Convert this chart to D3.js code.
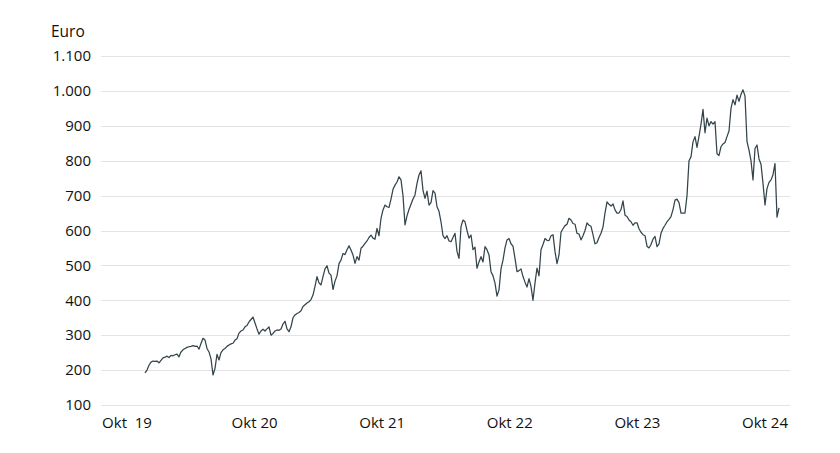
<!DOCTYPE html>
<html>
<head>
<meta charset="utf-8">
<script src="https://cdn.jsdelivr.net/npm/d3@7/dist/d3.min.js"></script>
<style>
  html, body { margin: 0; padding: 0; background: #fff; }
  svg { display: block; }
  text { font-family: "Open Sans", "Noto Sans", sans-serif; fill: #111; }
</style>
</head>
<body>
<svg id="chart" width="840" height="453"></svg>
<script>
// ---- data ----
const xLabels = ["Okt  19", "Okt 20", "Okt 21", "Okt 22", "Okt 23", "Okt 24"];
const yTicks = [100, 200, 300, 400, 500, 600, 700, 800, 900, 1000, 1100];
const yUnit = "Euro";
// price samples, evenly spaced in time from start to end of the series
const prices = [
  192,200,214,223,226,225,226,221,228,235,237,240,236,242,241,244,246,238,252,258,
  262,265,267,268,270,268,269,260,276,291,286,262,252,232,186,205,245,229,250,258,
  262,268,272,275,277,286,290,306,312,315,324,328,338,345,352,335,318,303,312,317,
  312,318,324,300,305,312,315,314,318,332,340,318,310,324,350,358,362,365,370,382,
  387,392,396,402,415,440,468,450,444,468,490,499,478,472,431,455,470,505,515,534,
  531,545,556,544,530,506,525,515,549,555,563,570,580,587,578,575,606,585,635,659,
  673,668,666,690,718,730,739,754,745,700,616,642,660,675,690,702,735,759,771,715,
  692,713,673,680,714,707,668,655,625,585,577,585,570,568,580,592,540,520,611,630,
  625,600,578,587,545,552,492,510,525,510,554,545,530,482,470,449,412,430,490,515,
  550,573,577,562,555,520,482,485,490,468,452,438,462,440,400,450,492,470,545,560,
  577,572,571,585,588,540,505,530,595,605,614,618,635,630,620,618,592,590,573,585,
  600,622,615,612,588,562,565,580,592,610,650,682,675,670,676,659,650,650,660,685,
  644,640,630,625,615,622,622,605,595,588,585,555,550,560,575,583,554,562,592,606,
  615,625,632,640,660,687,690,680,650,650,650,700,800,811,854,869,838,870,905,947,
  880,922,900,912,905,912,820,815,840,848,852,869,885,950,975,960,988,970,990,1003,
  985,855,830,800,745,835,845,805,790,735,673,720,738,745,760,792,638,665
];

// ---- chart ----
const svg = d3.select("#chart");
const plot = { left: 101, right: 790, top: 56, bottom: 405 };
const seriesRange = [145, 779];

const y = d3.scaleLinear().domain([100, 1100]).range([plot.bottom, plot.top]);
const x = d3.scaleLinear().domain([0, prices.length - 1]).range(seriesRange);
const xl = d3.scalePoint().domain(xLabels).range([127, 765]);

const de = d3.formatLocale({ decimal: ",", thousands: ".", grouping: [3], currency: ["", " €"] });
const fmt = de.format(",d");

// gridlines
svg.append("g").selectAll("line").data(yTicks).join("line")
  .attr("x1", plot.left).attr("x2", plot.right)
  .attr("y1", d => Math.round(y(d)) + 0.5).attr("y2", d => Math.round(y(d)) + 0.5)
  .attr("stroke", "#e3e3e3").attr("stroke-width", 1);

// y labels
svg.append("g").selectAll("text").data(yTicks).join("text")
  .attr("x", 91).attr("y", d => y(d))
  .attr("dy", "0.35em")
  .attr("text-anchor", "end")
  .style("font-size", "15px")
  .text(d => fmt(d));

// unit label
svg.append("text")
  .attr("x", 51).attr("y", 37)
  .style("font-size", "15.5px")
  .text(yUnit);

// x labels
svg.append("g").selectAll("text").data(xLabels).join("text")
  .attr("x", d => xl(d)).attr("y", 428)
  .attr("text-anchor", "middle")
  .style("font-size", "15px")
  .style("white-space", "pre")
  .text(d => d);

// line
const line = d3.line().x((d, i) => x(i)).y(d => y(d));
svg.append("path")
  .datum(prices)
  .attr("fill", "none")
  .attr("stroke", "#33444b")
  .attr("stroke-width", 1.25)
  .attr("stroke-linejoin", "round")
  .attr("d", line);
</script>
</body>
</html>
